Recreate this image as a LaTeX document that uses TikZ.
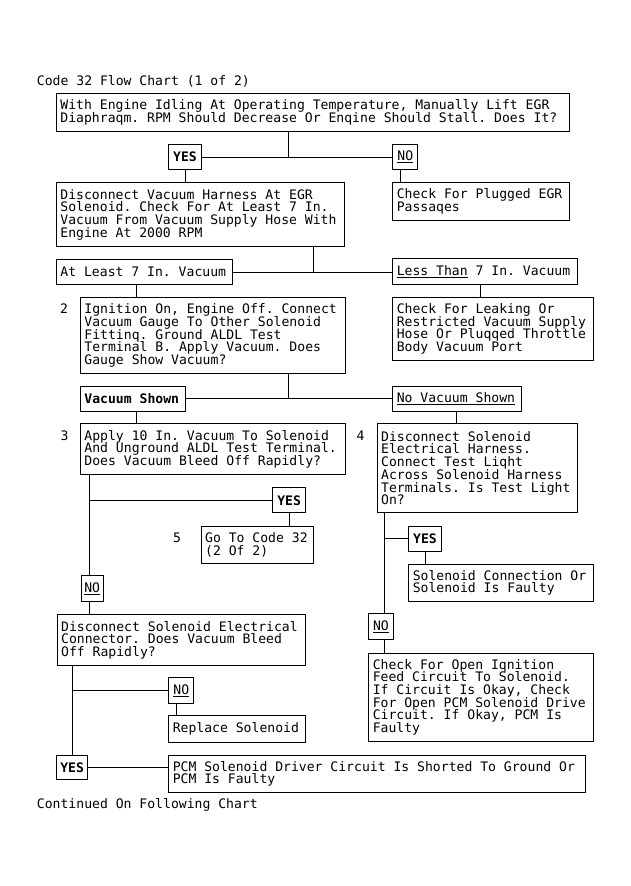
\documentclass[tikz,border=0pt]{standalone}
\usepackage{fontspec}
\newfontfamily\chartmono{DejaVu Sans Mono}
\newcommand{\chartfont}{\chartmono\fontsize{13.1pt}{12.7pt}\selectfont\lineskiplimit=-20pt\relax}
\tikzset{
  stepbox/.style 2 args={draw, anchor=north west, align=left, inner xsep=4pt, inner ysep=0pt,
    font=\chartfont, text width=#1, minimum height=#2,
    execute at begin node={\spaceskip=0pt\xspaceskip=0pt\frenchspacing}},
  tagbox/.style 2 args={draw, anchor=north west, inner sep=0pt, font=\chartfont,
    minimum width=#1, minimum height=#2},
  plain/.style={font=\chartfont, inner sep=0pt},
}

\begin{document}
\begin{tikzpicture}[x=1pt, y=-1pt, line width=0.9pt]
  \useasboundingbox (0,0) rectangle (631,886);
  \node[plain, anchor=west] (title) at (36.5,81.7) {Code 32 Flow Chart (1 of 2)};
  \node[stepbox={505.3pt}{37.7pt}] (A) at (56,93.3) {With Engine Idling At Operating Temperature, Manually Lift EGR\\Diaphraqm. RPM Should Decrease Or Enqine Should Stall. Does It?};
  \node[tagbox={32.4pt}{25.3pt}] (yes1) at (168.3,144) {\bfseries YES};
  \node[tagbox={25pt}{25.3pt}] (no1) at (392.3,144) {\underline{NO}};
  \node[stepbox={280.3pt}{63.7pt}] (B) at (56,182.3) {Disconnect Vacuum Harness At EGR\\Solenoid. Check For At Least 7 In.\\Vacuum From Vacuum Supply Hose With\\Engine At 2000 RPM};
  \node[stepbox={169pt}{37.7pt}] (C) at (392.3,182.3) {Check For Plugged EGR\\Passaqes};
  \node[stepbox={168.3pt}{25pt}] (least) at (56,259) {At Least 7 In. Vacuum};
  \node[stepbox={176.4pt}{25.7pt}] (less) at (392.3,258.3) {\underline{Less Than} 7 In. Vacuum};
  % step 2
  \node[plain] (n2) at (64,309) {2};
  \node[stepbox={257pt}{76.6pt}] (box2) at (80,296.7) {Ignition On, Engine Off. Connect\\Vacuum Gauge To Other Solenoid\\Fittinq. Ground ALDL Test\\Terminal B. Apply Vacuum. Does\\Gauge Show Vacuum?};
  \node[stepbox={192.4pt}{63.3pt}] (D) at (392.3,296.7) {Check For Leaking Or\\Restricted Vacuum Supply\\Hose Or Pluqqed Throttle\\Body Vacuum Port};
  \node[stepbox={97pt}{25.3pt}] (vshown) at (80,385.7) {\bfseries Vacuum Shown};
  \node[stepbox={120.4pt}{25.3pt}] (novac) at (392.3,385.7) {\underline{No Vacuum Shown}};
  % steps 3 and 4
  \node[plain] (n3) at (64.5,435.7) {3};
  \node[stepbox={257pt}{51pt}] (box3) at (80,423.3) {Apply 10 In. Vacuum To Solenoid\\And Unground ALDL Test Terminal.\\Does Vacuum Bleed Off Rapidly?};
  \node[plain] (n4) at (360.5,435.7) {4};
  \node[stepbox={192pt}{88.7pt}] (box4) at (376.7,423.3) {Disconnect Solenoid\\Electrical Harness.\\Connect Test Liqht\\Across Solenoid Harness\\Terminals. Is Test Light\\On?};
  \node[tagbox={32.7pt}{25pt}] (yes3) at (272.3,487.3) {\bfseries YES};
  \node[plain] (n5) at (177,538.3) {5};
  \node[stepbox={104pt}{37pt}] (box5) at (200.7,525.7) {Go To Code 32\\(2 Of 2)};
  \node[tagbox={32.4pt}{25.3pt}] (yes4) at (408.3,525.7) {\bfseries YES};
  \node[stepbox={177pt}{37pt}] (solconn) at (408.3,564) {Solenoid Connection Or\\Solenoid Is Faulty};
  \node[tagbox={22pt}{26pt}] (no3) at (80.7,575) {\underline{NO}};
  \node[stepbox={240.3pt}{50.7pt}] (E) at (56.7,614.3) {Disconnect Solenoid Electrical\\Connector. Does Vacuum Bleed\\Off Rapidly?};
  \node[tagbox={24.4pt}{26pt}] (no4) at (368.3,613.3) {\underline{NO}};
  \node[stepbox={217pt}{88.3pt}] (F) at (368.3,652.7) {Check For Open Iqnition\\Feed Circuit To Solenoid.\\If Circuit Is Okay, Check\\For Open PCM Solenoid Drive\\Circuit. If Okay, PCM Is\\Faulty};
  \node[tagbox={25pt}{26pt}] (no5) at (168.3,677.3) {\underline{NO}};
  \node[stepbox={128.7pt}{26.7pt}] (replace) at (168.3,715) {Replace Solenoid};
  \node[tagbox={31.3pt}{24.3pt}] (yes5) at (56,755) {\bfseries YES};
  \node[stepbox={408.7pt}{36.7pt}] (pcm) at (168.3,755) {PCM Solenoid Driver Circuit Is Shorted To Ground Or\\PCM Is Faulty};
  \node[plain, anchor=west] (cont) at (36.5,805) {Continued On Following Chart};

  % trunk columns
  \coordinate (colA) at (288.3,0);
  \coordinate (colB) at (313.3,0);
  \coordinate (colL) at (136.7,0);
  \coordinate (colR) at (480.7,0);
  \coordinate (colN) at (456.7,0);
  \coordinate (colNo) at (400.7,0);
  \coordinate (col3) at (89,0);
  \coordinate (col4) at (384,0);
  \coordinate (colE) at (72.7,0);
  \coordinate (colRep) at (176,0);

  \draw (A.south -| colA) -- (colA |- yes1);
  \draw (yes1) -- (no1);
  \draw (yes1) -- (yes1 |- B.north);
  \draw (no1.south -| colNo) -- (C.north -| colNo);
  \draw (B.south -| colB) -- (colB |- least);
  \draw (least.east) -- (least.east -| less.west);
  \draw (least.south -| colL) -- (box2.north -| colL);
  \draw (less.south -| colR) -- (D.north -| colR);
  \draw (box2.south -| colA) -- (colA |- vshown);
  \draw (vshown) -- (novac);
  \draw (vshown.south -| colL) -- (box3.north -| colL);
  \draw (novac.south -| colN) -- (box4.north -| colN);
  \draw (box3.south -| col3) -- (no3.north -| col3);
  \draw (col3 |- yes3) -- (yes3.west);
  \draw (yes3) -- (yes3 |- box5.north);
  \draw (no3.south -| col3) -- (E.north -| col3);
  \draw (box4.south -| col4) -- (no4.north -| col4);
  \draw (col4 |- yes4) -- (yes4.west);
  \draw (yes4) -- (yes4 |- solconn.north);
  \draw (no4.south -| col4) -- (F.north -| col4);
  \draw (E.south -| colE) -- (yes5.north -| colE);
  \draw (colE |- no5) -- (no5.west);
  \draw (no5.south -| colRep) -- (replace.north -| colRep);
  \draw (yes5.east) -- (yes5.east -| pcm.west);
\end{tikzpicture}
\end{document}
